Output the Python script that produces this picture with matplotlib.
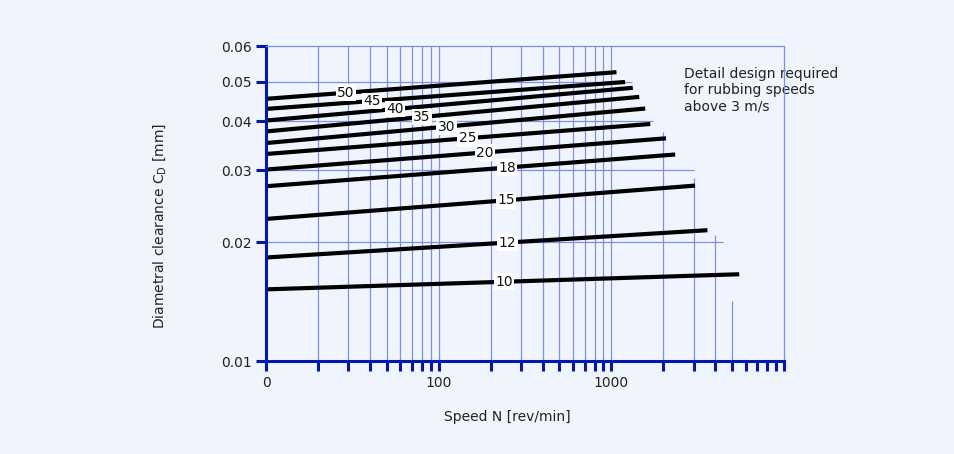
import numpy as np
import matplotlib.pyplot as plt
from matplotlib.ticker import NullFormatter

# clearance curves: shaft diameter [mm], value at 10 rev/min, end speed and end value
diameters = [50, 45, 40, 35, 30, 25, 20, 18, 15, 12, 10]
clear_start = [0.0454, 0.0429, 0.0402, 0.0377, 0.0352, 0.0330, 0.0301, 0.0274, 0.0228, 0.0183, 0.0152]
speed_end = [1070, 1200, 1330, 1450, 1570, 1680, 2070, 2340, 3050, 3600, 5500]
clear_end = [0.0525, 0.0499, 0.0483, 0.0459, 0.0430, 0.0394, 0.0362, 0.0329, 0.0275, 0.0214, 0.0166]
label_speed = [29, 41, 56, 80, 111, 147, 186, 248, 246, 250, 239]

# grid lines stop at the 3 m/s rubbing speed limit
vgrid_x = [20, 30, 40, 50, 60, 70, 80, 90, 100, 200, 300, 400, 500, 600, 700, 800, 900, 1000,
           2000, 3000, 4000, 5000]
vgrid_top = [0.06] * 18 + [0.0375, 0.0287, 0.0208, 0.0142]
hgrid_y = [0.02, 0.03, 0.04, 0.05]
hgrid_end = [4420, 3000, 1740, 1310]

xmajor = [10, 100, 1000]
xmajor_labels = ['0', '100', '1000']
xminor = [20, 30, 40, 50, 60, 70, 80, 90, 200, 300, 400, 500, 600, 700, 800, 900,
          2000, 3000, 4000, 5000, 6000, 7000, 8000, 9000, 10000]
yticks = [0.01, 0.02, 0.03, 0.04, 0.05, 0.06]
ytick_labels = ['0.01', '0.02', '0.03', '0.04', '0.05', '0.06']

# the printed y axis is not a clean log scale: piecewise log between the ticks
ytick_frac = [0.0, 0.3778, 0.6067, 0.7613, 0.8876, 1.0]
logt = np.log10(yticks)


def yfwd(y):
    y = np.clip(np.asarray(y, dtype=float), 1e-6, None)
    return np.interp(np.log10(y), logt, ytick_frac)


def yinv(u):
    return 10 ** np.interp(np.asarray(u, dtype=float), ytick_frac, logt)


bg = '#f0f5fd'
blue = '#0019a8'
gridc = '#8090e0'

plt.rcParams['font.family'] = 'DejaVu Sans'
fig = plt.figure(figsize=(9.541, 4.541), dpi=100, facecolor=bg)
ax = fig.add_axes([0.2788, 0.2042, 0.5430, 0.6938])
ax.set_facecolor(bg)
ax.set_xscale('log')
ax.set_yscale('function', functions=(yfwd, yinv))
ax.set_xlim(10, 10000)
ax.set_ylim(0.01, 0.06)

ax.vlines(vgrid_x, 0.01, vgrid_top, color=gridc, lw=0.9, zorder=1)
ax.hlines(hgrid_y, 10, hgrid_end, color=gridc, lw=0.9, zorder=1)

for d, y0, x1, y1, xl in zip(diameters, clear_start, speed_end, clear_end, label_speed):
    ax.plot([10, x1], [y0, y1], color='black', lw=3, solid_capstyle='butt', zorder=3)
    t = (np.log10(xl) - 1) / (np.log10(x1) - 1)
    yl = yinv(yfwd(y0) + t * (yfwd(y1) - yfwd(y0)))
    ax.text(xl, yl, str(d), ha='center', va='center', fontsize=10, color='#111', zorder=4,
            bbox=dict(facecolor='white', edgecolor='none', pad=1))

ax.text(0.807, 0.935, 'Detail design required\nfor rubbing speeds\nabove 3 m/s',
        transform=ax.transAxes, ha='left', va='top', fontsize=10, color='#222',
        linespacing=1.2, zorder=1, clip_on=False)

ax.set_xticks(xmajor)
ax.set_xticklabels(xmajor_labels)
ax.set_xticks(xminor, minor=True)
ax.xaxis.set_minor_formatter(NullFormatter())
ax.set_yticks(yticks)
ax.set_yticklabels(ytick_labels)
ax.set_yticks([], minor=True)
ax.tick_params(axis='both', which='both', direction='out', length=7.5, width=2.2,
               color=blue, labelsize=10, labelcolor='#222', pad=3)

for side in ['left', 'bottom']:
    ax.spines[side].set_color(blue)
    ax.spines[side].set_linewidth(2.2)
    ax.spines[side].set_zorder(5)
for side in ['top', 'right']:
    ax.spines[side].set_color(gridc)
    ax.spines[side].set_linewidth(0.9)
    ax.spines[side].set_zorder(5)

ax.set_xlabel('Speed N [rev/min]', fontsize=10, color='#222')
ax.xaxis.set_label_coords(0.465, -0.153)
ax.set_ylabel(r'Diametral clearance C$_\mathregular{D}$ [mm]', fontsize=10, color='#222')
ax.yaxis.set_label_coords(-0.19, 0.43)

fig.savefig('out.png', dpi=100, facecolor=bg)
